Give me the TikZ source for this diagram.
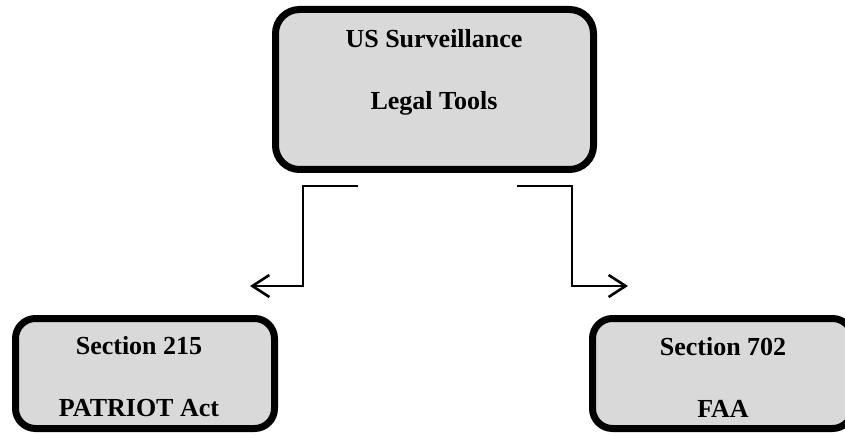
\documentclass[tikz,border=0pt]{standalone}
\usepackage{fontspec}
\setmainfont{Liberation Serif}
\usetikzlibrary{arrows.meta}
\definecolor{boxgray}{HTML}{D9D9D9}
\tikzset{
  panel/.style={draw=black, fill=boxgray, line width=7pt, rounded corners=#1,
    inner sep=0pt, outer sep=0pt},
  caption/.style={anchor=base, inner sep=0pt, font=\bfseries\fontsize{26}{30}\selectfont},
  link/.style={line width=2.6pt, line join=miter, -{Straight Barb[length=17pt,width=22pt,line width=2.6pt]}}
}
\begin{document}
\begin{tikzpicture}[x=1pt, y=-1pt]
  \useasboundingbox[fill=white] (0,0) rectangle (845,435);

  % boxes
  \node[panel=24pt, minimum width=318pt, minimum height=160pt] (top) at (434.5,89.5) {};
  \node[panel=20pt, minimum width=259pt, minimum height=110pt] (left) at (145,373.5) {};
  \node[panel=20pt, minimum width=260pt, minimum height=110pt] (right) at (722.5,373.5) {};

  % labels
  \node[caption] (t1) at (434,48) {US Surveillance};
  \node[caption] (t2) at (434,110) {Legal Tools};
  \node[caption] (l1) at (139,354) {Section 215};
  \node[caption] (l2) at (139,416) {PATRIOT Act};
  \node[caption] (r1) at (723,355) {Section 702};
  \node[caption] (r2) at (723,417) {FAA};

  % connector ends
  \coordinate (ls) at (358,186);
  \coordinate (le) at (250,286);
  \coordinate (rs) at (517,186);
  \coordinate (re) at (628,286);

  \draw[link] (ls) -- (303,186) -- (303,286) -- (le);
  \draw[link] (rs) -- (572,186) -- (572,286) -- (re);
\end{tikzpicture}
\end{document}
